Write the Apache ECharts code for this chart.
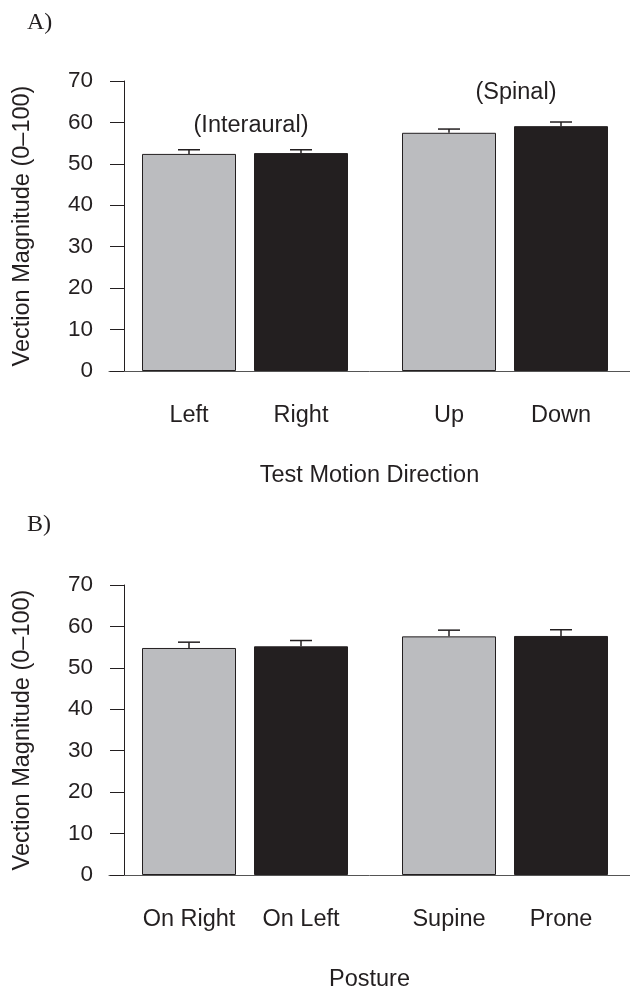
<!DOCTYPE html>
<html>
<head>
<meta charset="utf-8">
<script src="https://cdn.jsdelivr.net/npm/echarts@6/dist/echarts.min.js"></script>
<style>
html,body{margin:0;padding:0;background:#fff;}
#chart{width:630px;height:987px;}
</style>
</head>
<body>
<div id="chart"></div>
<script>
// ---- data ----
const categoriesA = ['Left', 'Right', 'Up', 'Down'];
const valuesA = [52.4, 52.6, 57.5, 59.1];
const errorsA = [1.0, 0.8, 0.9, 1.0];
const groupLabelsA = ['(Interaural)', '(Spinal)'];
const xTitleA = 'Test Motion Direction';

const categoriesB = ['On Right', 'On Left', 'Supine', 'Prone'];
const valuesB = [54.8, 55.2, 57.6, 57.7];
const errorsB = [1.4, 1.4, 1.5, 1.5];
const xTitleB = 'Posture';

const yTitle = 'Vection Magnitude (0\u2013100)';
const yMin = 0, yMax = 70, yStep = 10;
const panelLetters = ['A)', 'B)'];

// ---- styles ----
const FONT = 'Liberation Sans, Arial, Helvetica, sans-serif';
const SERIF = 'Liberation Serif, Times New Roman, serif';
const INK = '#231f20';
const GRAY = '#bbbcbf';
const FS = 23.5;
const TFS = 22.5;

const chart = echarts.init(document.getElementById('chart'));

const grids = [], xAxes = [], yAxes = [], series = [];

function addPanel(top, cats, vals, errs, xTitle) {
  const h = 290;
  const groups = [{left: 133}, {left: 393}];
  groups.forEach((g, gi) => {
    const gridIndex = grids.length;
    grids.push({left: g.left, width: 224, top: top, height: h, containLabel: false, outerBoundsMode: 'none'});
    const c = cats.slice(gi * 2, gi * 2 + 2);
    const v = vals.slice(gi * 2, gi * 2 + 2);
    const e = errs.slice(gi * 2, gi * 2 + 2);
    xAxes.push({
      type: 'category', gridIndex, data: c,
      axisLine: {show: false}, axisTick: {show: false},
      axisLabel: {interval: 0, hideOverlap: false, fontSize: FS, fontFamily: FONT, color: INK, margin: 33}
    });
    const yax = {
      type: 'value', gridIndex, min: yMin, max: yMax, interval: yStep,
      splitLine: {show: false}
    };
    if (gi === 0) {
      Object.assign(yax, {
        offset: 9,
        axisLine: {show: true, lineStyle: {color: INK, width: 1}},
        axisTick: {show: true, length: 14, lineStyle: {color: INK, width: 1}},
        axisLabel: {fontSize: TFS, fontFamily: FONT, color: INK, margin: 31},
        name: yTitle, nameLocation: 'middle', nameRotate: 90, nameGap: 89,
        nameTextStyle: {fontSize: FS, fontFamily: FONT, color: INK}
      });
    } else {
      yax.show = false;
    }
    yAxes.push(yax);
    series.push({
      type: 'bar', xAxisIndex: gridIndex, yAxisIndex: gridIndex, barWidth: 94,
      data: v.map((val, i) => ({
        value: val,
        itemStyle: i === 0
          ? {color: GRAY, borderColor: INK, borderWidth: 1}
          : {color: INK, borderColor: INK, borderWidth: 1}
      })),
      silent: true, animation: false
    });
    series.push({
      type: 'custom', xAxisIndex: gridIndex, yAxisIndex: gridIndex, z: 5,
      data: v.map((val, i) => [i, val, e[i]]),
      renderItem(params, api) {
        const x = api.value(0), y = api.value(1), er = api.value(2);
        const p0 = api.coord([x, y]);
        const p1 = api.coord([x, y + er]);
        const hw = 11;
        const st = {stroke: INK, lineWidth: 1.5};
        return {type: 'group', children: [
          {type: 'line', shape: {x1: p0[0], y1: p0[1], x2: p1[0], y2: p1[1]}, style: st},
          {type: 'line', shape: {x1: p1[0] - hw, y1: p1[1], x2: p1[0] + hw, y2: p1[1]}, style: st}
        ]};
      },
      silent: true, animation: false
    });
  });
  // baseline grid (full-width x axis line + title)
  const gridIndex = grids.length;
  grids.push({left: 109, right: 0, top: top, height: h, outerBoundsMode: 'none'});
  xAxes.push({
    type: 'value', gridIndex, min: 0, max: 1,
    axisLine: {show: true, lineStyle: {color: '#555', width: 1}},
    axisTick: {show: false}, axisLabel: {show: false}, splitLine: {show: false},
    name: xTitle, nameLocation: 'middle', nameGap: 93,
    nameTextStyle: {fontSize: FS, fontFamily: FONT, color: INK}
  });
  yAxes.push({type: 'value', gridIndex, show: false, min: 0, max: 1});
}

addPanel(81, categoriesA, valuesA, errorsA, xTitleA);
addPanel(585, categoriesB, valuesB, errorsB, xTitleB);

const graphic = [
  {type: 'text', x: 27, y: 23, style: {text: panelLetters[0], font: '24px ' + SERIF, fill: INK, align: 'left', verticalAlign: 'middle'}},
  {type: 'text', x: 27, y: 525, style: {text: panelLetters[1], font: '24px ' + SERIF, fill: INK, align: 'left', verticalAlign: 'middle'}},
  {type: 'text', x: 251, y: 126, style: {text: groupLabelsA[0], font: FS + 'px ' + FONT, fill: INK, align: 'center', verticalAlign: 'middle'}},
  {type: 'text', x: 516, y: 93, style: {text: groupLabelsA[1], font: FS + 'px ' + FONT, fill: INK, align: 'center', verticalAlign: 'middle'}}
];

chart.setOption({
  animation: false,
  backgroundColor: '#fff',
  grid: grids, xAxis: xAxes, yAxis: yAxes, series, graphic
});
</script>
</body>
</html>
